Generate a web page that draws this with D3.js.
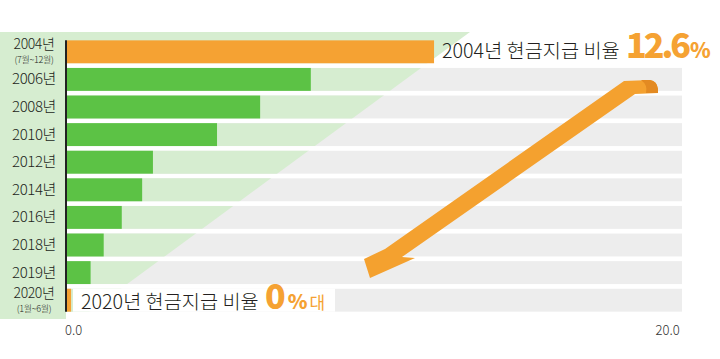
<!DOCTYPE html>
<html><head><meta charset="utf-8">
<script src="https://cdn.jsdelivr.net/npm/d3@7/dist/d3.min.js"></script>
<style>
html,body{margin:0;padding:0;background:#fff;}
svg{display:block;font-family:"Noto Sans CJK KR","Noto Sans",sans-serif;}
</style></head>
<body>
<svg id="chart" width="720" height="359"></svg>
<script>
// ---- data ----
const years = ['2004년','2006년','2008년','2010년','2012년','2014년','2016년','2018년','2019년','2020년'];
const subLabels = ['(7월~12월)','','','','','','','','','(1월~6월)'];
const values = [12.6, 8.37, 6.63, 5.15, 2.95, 2.58, 1.88, 1.26, 0.81, 0.14];
const xTicks = [0, 20];
const highlightYears = ['2004년','2020년'];
const topNote = ['2004년 현금지급 비율 ', '%'];
const bottomNote = ['2020년 현금지급 비율 ', '0', '%', '대'];

// ---- colours ----
const ORANGE = '#F5A233', GREEN = '#5CC245', LIGHTGREEN = '#D6EDD0', GRAY = '#EDEDED', TEXT = '#231F20';

const svg = d3.select('#chart');
const x = d3.scaleLinear().domain([0, 20]).range([67, 649.6]);
const y = d3.scaleBand().domain(years).range([38, 314]).paddingInner(0.17).paddingOuter(0.085);
const bw = y.bandwidth();
const bandRight = 682;

// clip: row bands + label column
const defs = svg.append('defs');
const clip = defs.append('clipPath').attr('id','rowsClip');
clip.append('rect').attr('x',0).attr('y',32).attr('width',66).attr('height',287);
years.forEach((yr,i)=>{
  const top = i===0 ? 32 : y(yr);
  clip.append('rect').attr('x',0).attr('y',top).attr('width',720).attr('height',y(yr)+bw-top);
});

// gray tracks
svg.append('g').selectAll('rect').data(years.slice(1)).join('rect')
  .attr('x',66).attr('y',d=>y(d)).attr('width',bandRight-66).attr('height',bw).attr('fill',GRAY);

// light-green wedge
svg.append('path').attr('clip-path','url(#rowsClip)')
  .attr('d','M0,32 L470,32 L66,329 L0,329 Z').attr('fill',LIGHTGREEN);

// white box behind 2020 note
svg.append('rect').attr('x',73).attr('y',y('2020년')).attr('width',262).attr('height',bw).attr('fill','#fff');

// bars
svg.append('g').selectAll('rect').data(years).join('rect')
  .attr('x',x(0)).attr('y',d=>y(d))
  .attr('width',(d,i)=>x(values[i])-x(0)).attr('height',bw)
  .attr('fill',d=>highlightYears.includes(d)?ORANGE:GREEN);

// axis line
svg.append('line').attr('x1',66).attr('x2',66).attr('y1',y(years[0])).attr('y2',y(years[years.length-1])+bw)
  .attr('stroke','#222').attr('stroke-width',2);

// year labels
const lab = svg.append('g').attr('fill',TEXT).attr('font-weight',300);
years.forEach((yr,i)=>{
  const top = y(yr);
  if (subLabels[i]) {
    lab.append('text').attr('x',34).attr('y',top+9).attr('text-anchor','middle')
      .attr('font-size',14).attr('letter-spacing',-0.4).text(yr);
    lab.append('text').attr('x',34).attr('y',top+23).attr('text-anchor','middle')
      .attr('font-size',9).attr('letter-spacing',-0.3).text(subLabels[i]);
  } else {
    lab.append('text').attr('x',34).attr('y',top+bw/2+5).attr('text-anchor','middle')
      .attr('font-size',15).attr('letter-spacing',-0.4).text(yr);
  }
});

// x axis
const ax = svg.append('g').attr('transform','translate(0,320)')
  .call(d3.axisBottom(x).tickValues(xTicks).tickFormat(d3.format('.1f')).tickSize(0));
ax.select('.domain').remove();
ax.selectAll('text').attr('font-family','"Noto Sans CJK KR","Noto Sans",sans-serif')
  .attr('font-size',13).attr('font-weight',300).attr('fill','#333').attr('dy','0.95em')
  .attr('dx',d=>d===0?6:17.5);

// top note
const t1 = svg.append('text').attr('x',442).attr('y',58);
t1.append('tspan').attr('font-size',19.7).attr('font-weight',300).attr('fill',TEXT).text(topNote[0]);
t1.append('tspan').attr('font-size',34).attr('font-weight',900).attr('fill',ORANGE).attr('letter-spacing',-3)
  .attr('dx',2).text(d3.format('.1f')(values[0]));
t1.append('tspan').attr('font-size',21).attr('font-weight',900).attr('fill',ORANGE).attr('dx',2).text(topNote[1]);

// bottom note
const t2 = svg.append('text').attr('x',81).attr('y',309);
t2.append('tspan').attr('font-size',19.7).attr('font-weight',300).attr('fill',TEXT).text(bottomNote[0]);
t2.append('tspan').attr('font-size',34).attr('font-weight',900).attr('fill',ORANGE).attr('dx',2).text(bottomNote[1]);
t2.append('tspan').attr('font-size',20).attr('font-weight',900).attr('fill',ORANGE).attr('dx',2).text(bottomNote[2]);
t2.append('tspan').attr('font-size',17).attr('fill',ORANGE).attr('dx',2).text(bottomNote[3]);

// decorative arrow
svg.append('path').attr('fill','#F4A12F')
  .attr('d','M624,81 L650,80 Q657,81 658,89 L658,93 L635,94 L402,257 L415,258 L370,278 L364,259 L385,249 Z');
svg.append('path').attr('fill','#E38A22')
  .attr('d','M641,80 L650,80 Q657,81 658,89 L658,93 L646,93 Q648,85 641,80 Z');
</script>
</body></html>
